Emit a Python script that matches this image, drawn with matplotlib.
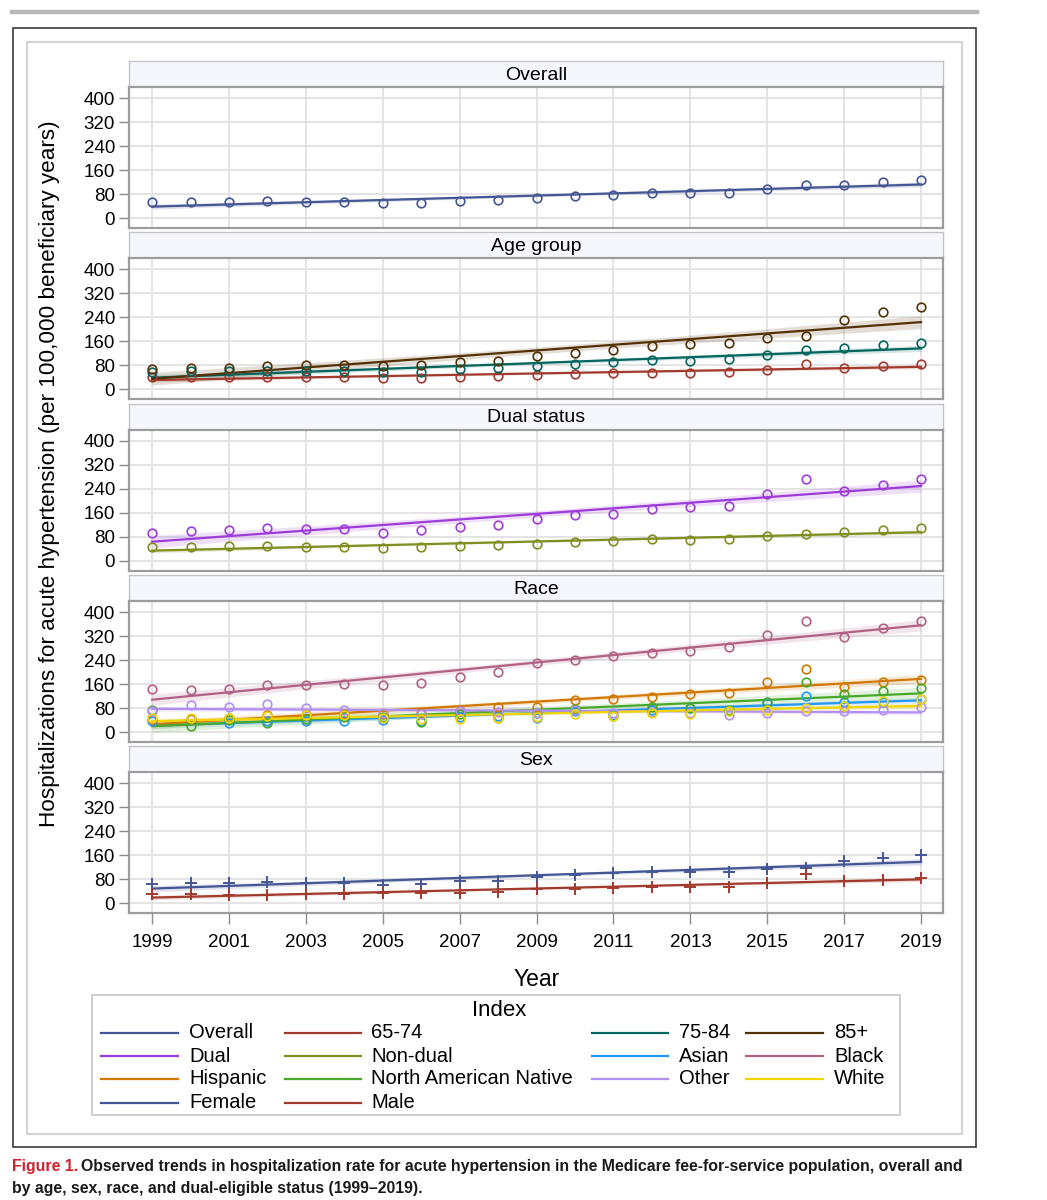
import numpy as np
import matplotlib
matplotlib.use("Agg")
import matplotlib.pyplot as plt
from matplotlib.patches import Rectangle
from matplotlib.lines import Line2D
from matplotlib import font_manager

plt.rcParams['font.family'] = ['Liberation Sans', 'DejaVu Sans']

# ---------------- data ----------------
years = list(range(1999, 2020))
overall = [52, 54, 55, 56, 55, 55, 50, 51, 57, 60, 68, 74, 77, 83, 82, 84, 96, 109, 111, 121, 127]
age_65_74 = [42, 42, 43, 42, 40, 40, 37, 38, 40, 45, 48, 52, 54, 56, 56, 57, 66, 84, 73, 79, 84]
age_75_84 = [57, 60, 60, 60, 60, 60, 58, 58, 67, 70, 79, 84, 90, 98, 96, 101, 116, 131, 137, 147, 156]
age_85 = [67, 71, 71, 78, 80, 81, 79, 80, 92, 94, 111, 122, 133, 145, 151, 156, 173, 178, 233, 258, 274]
dual = [93, 98, 103, 108, 107, 107, 94, 101, 111, 120, 139, 151, 157, 171, 178, 184, 224, 273, 233, 254, 272]
nondual = [46, 47, 48, 48, 47, 47, 44, 45, 49, 52, 57, 62, 65, 71, 70, 71, 81, 88, 96, 104, 110]
asian = [37, 42, 31, 37, 36, 36, 40, 36, 50, 55, 48, 69, 58, 75, 81, 70, 98, 121, 99, 100, 111]
black = [144, 140, 144, 156, 156, 160, 157, 164, 182, 199, 229, 240, 252, 264, 269, 283, 322, 371, 316, 347, 371]
hispanic = [44, 45, 47, 56, 58, 59, 60, 62, 70, 83, 84, 108, 110, 117, 127, 131, 166, 209, 151, 168, 172]
nan_native = [74, 20, 40, 29, 42, 50, 51, 33, 60, 47, 62, 77, 52, 84, 80, 75, 101, 168, 126, 138, 147]
other = [70, 90, 84, 92, 80, 72, 64, 60, 70, 68, 62, 72, 64, 68, 64, 58, 64, 70, 70, 72, 82]
white = [46, 46, 48, 53, 56, 56, 47, 45, 42, 47, 51, 59, 55, 62, 59, 70, 75, 79, 87, 103, 109]
female = [65, 67, 69, 71, 68, 69, 62, 63, 73, 76, 89, 95, 100, 106, 104, 104, 115, 118, 140, 151, 160]
male = [31, 30, 29, 29, 30, 31, 35, 36, 35, 38, 47, 49, 50, 55, 55, 56, 69, 97, 73, 78, 85]

panel_titles = ["Overall", "Age group", "Dual status", "Race", "Sex"]
y_ticks = [0, 80, 160, 240, 320, 400]
x_ticks = [1999, 2001, 2003, 2005, 2007, 2009, 2011, 2013, 2015, 2017, 2019]

colors = ["#445694", "#A23A2E", "#01665E", "#543005", "#9D3CDB", "#7F8E1F",
          "#2597FA", "#B26084", "#D17800", "#47A82A", "#B38EF3", "#F2D400"]

panels = [
    [("Overall", overall, 0)],
    [("65-74", age_65_74, 1), ("75-84", age_75_84, 2), ("85+", age_85, 3)],
    [("Dual", dual, 4), ("Non-dual", nondual, 5)],
    [("Asian", asian, 6), ("Black", black, 7), ("Hispanic", hispanic, 8),
     ("North American Native", nan_native, 9), ("Other", other, 10), ("White", white, 11)],
    [("Female", female, 0), ("Male", male, 1)],
]
markers = ['o', 'o', 'o', 'o', '+']

legend_rows = [
    [("Overall", 0), ("65-74", 1), ("75-84", 2), ("85+", 3)],
    [("Dual", 4), ("Non-dual", 5), ("Asian", 6), ("Black", 7)],
    [("Hispanic", 8), ("North American Native", 9), ("Other", 10), ("White", 11)],
    [("Female", 0), ("Male", 1)],
]

# ---------------- layout helpers ----------------
W, H = 1047, 1200
fig = plt.figure(figsize=(W / 100, H / 100), dpi=100)
fig.patch.set_facecolor('white')


def fx(px):
    return px / W


def fy(py):
    return 1 - py / H


def rect_px(x0, y0, x1, y1, **kw):
    fig.patches.append(Rectangle((fx(x0), fy(y1)), fx(x1) - fx(x0), fy(y0) - fy(y1),
                                 transform=fig.transFigure, **kw))


# decorative frames
fig.add_artist(Line2D([fx(12), fx(977)], [fy(12), fy(12)], transform=fig.transFigure,
                      color='#B8B8B8', lw=3.2))
rect_px(13, 28, 976, 1147, fill=False, edgecolor='#3A3A3A', lw=1.2)
rect_px(27, 42, 962, 1134, fill=False, edgecolor='#D4D4D4', lw=1.6)

x_left, x_right = 129, 943
xlim = (1998.40, 2019.57)
ylim = (-33, 437)
step = 171.3

years_arr = np.array(years, dtype=float)
tcrit = 2.093

for k, (title, series) in enumerate(zip(panel_titles, panels)):
    h_top = 61 + step * k
    p_top = 87 + step * k
    p_bot = 228 + step * k
    # header strip
    hax = fig.add_axes([fx(x_left), fy(p_top), fx(x_right) - fx(x_left), fy(h_top) - fy(p_top)])
    hax.set_facecolor('#F6F7FD')
    hax.set_xticks([]); hax.set_yticks([])
    for s in hax.spines.values():
        s.set_color('#C4C4C4'); s.set_linewidth(1.0)
    hax.text(0.5, 0.45, title, ha='center', va='center', fontsize=14, transform=hax.transAxes)

    ax = fig.add_axes([fx(x_left), fy(p_bot), fx(x_right) - fx(x_left), fy(p_top) - fy(p_bot)])
    ax.set_xlim(*xlim)
    ax.set_ylim(*ylim)
    ax.set_yticks(y_ticks)
    ax.set_yticklabels([str(v) for v in y_ticks])
    ax.set_xticks(x_ticks)
    ax.grid(True, color='#E4E4E4', lw=1.4)
    ax.set_axisbelow(True)
    for s in ax.spines.values():
        s.set_color('#9C9C9C'); s.set_linewidth(1.6)
    ax.tick_params(axis='y', length=7, width=1, color='#8A8A8A', labelsize=13.5, pad=3)
    if k == 4:
        ax.tick_params(axis='x', length=8, width=1, color='#8A8A8A', labelsize=13.5, pad=7)
        ax.set_xticklabels([str(v) for v in x_ticks])
    else:
        ax.tick_params(axis='x', length=0, labelbottom=False)

    # bands first
    fits = []
    for name, vals, ci in series:
        y = np.array(vals, dtype=float)
        b1, b0 = np.polyfit(years_arr, y, 1)
        yhat = b0 + b1 * years_arr
        resid = y - yhat
        n = len(y)
        s = np.sqrt(np.sum(resid ** 2) / (n - 2))
        xm = years_arr.mean()
        sxx = np.sum((years_arr - xm) ** 2)
        se = s * np.sqrt(1.0 / n + (years_arr - xm) ** 2 / sxx)
        ax.fill_between(years_arr, yhat - tcrit * se, yhat + tcrit * se,
                        color=colors[ci], alpha=0.16, lw=0, zorder=2)
        fits.append((yhat, ci))
    for yhat, ci in fits:
        ax.plot(years_arr, yhat, color=colors[ci], lw=1.6, zorder=3)
    for name, vals, ci in series:
        if markers[k] == 'o':
            ax.plot(years, vals, ls='none', marker='o', ms=6.2, mfc='none',
                    mec=colors[ci], mew=1.2, zorder=4)
        else:
            ax.plot(years, vals, ls='none', marker='+', ms=8, mec=colors[ci],
                    mew=1.4, zorder=4)

# axis labels
fig.text(fx(50), fy(474), "Hospitalizations for acute hypertension (per 100,000 beneficiary years)",
         rotation=90, ha='center', va='center', fontsize=16.2)
fig.text(fx(537), fy(980), "Year", ha='center', va='center', fontsize=16.5)

# legend
rect_px(92, 995, 900, 1115, fill=False, edgecolor='#CCCCCC', lw=1.3)
fig.text(fx(499), fy(1010), "Index", ha='center', va='center', fontsize=16)
col_line_x = [(101, 178), (285, 361), (592, 668), (746, 823)]
col_text_x = [189, 371, 679, 834]
row_y = [1033, 1056, 1079, 1103]
for r, row in enumerate(legend_rows):
    for c, (lab, ci) in enumerate(row):
        x0, x1 = col_line_x[c]
        fig.add_artist(Line2D([fx(x0), fx(x1)], [fy(row_y[r]), fy(row_y[r])],
                              transform=fig.transFigure, color=colors[ci], lw=1.6))
        fig.text(fx(col_text_x[c]), fy(row_y[r]), lab, ha='left', va='center', fontsize=14.5)

# caption
available = {f.name for f in font_manager.fontManager.ttflist}
cap_font = ['Liberation Sans Narrow', 'Liberation Sans', 'DejaVu Sans']
cap_size = 13.5 if 'Liberation Sans Narrow' in available else 11.4
t1 = fig.text(fx(12), fy(1166), "Figure 1.", color='#D0202A', fontsize=cap_size, fontweight='bold',
              family=cap_font, ha='left', va='center')
fig.canvas.draw()
bb = t1.get_window_extent(renderer=fig.canvas.get_renderer())
x_after = bb.x1 / W + fx(3)
fig.text(x_after, fy(1166),
         "Observed trends in hospitalization rate for acute hypertension in the Medicare fee-for-service population, overall and",
         color='#1A1A1A', fontsize=cap_size, fontweight='bold', family=cap_font, ha='left', va='center')
fig.text(fx(12), fy(1188), "by age, sex, race, and dual-eligible status (1999\u20132019).",
         color='#1A1A1A', fontsize=cap_size, fontweight='bold', family=cap_font, ha='left', va='center')

fig.savefig("out.png", dpi=100)
